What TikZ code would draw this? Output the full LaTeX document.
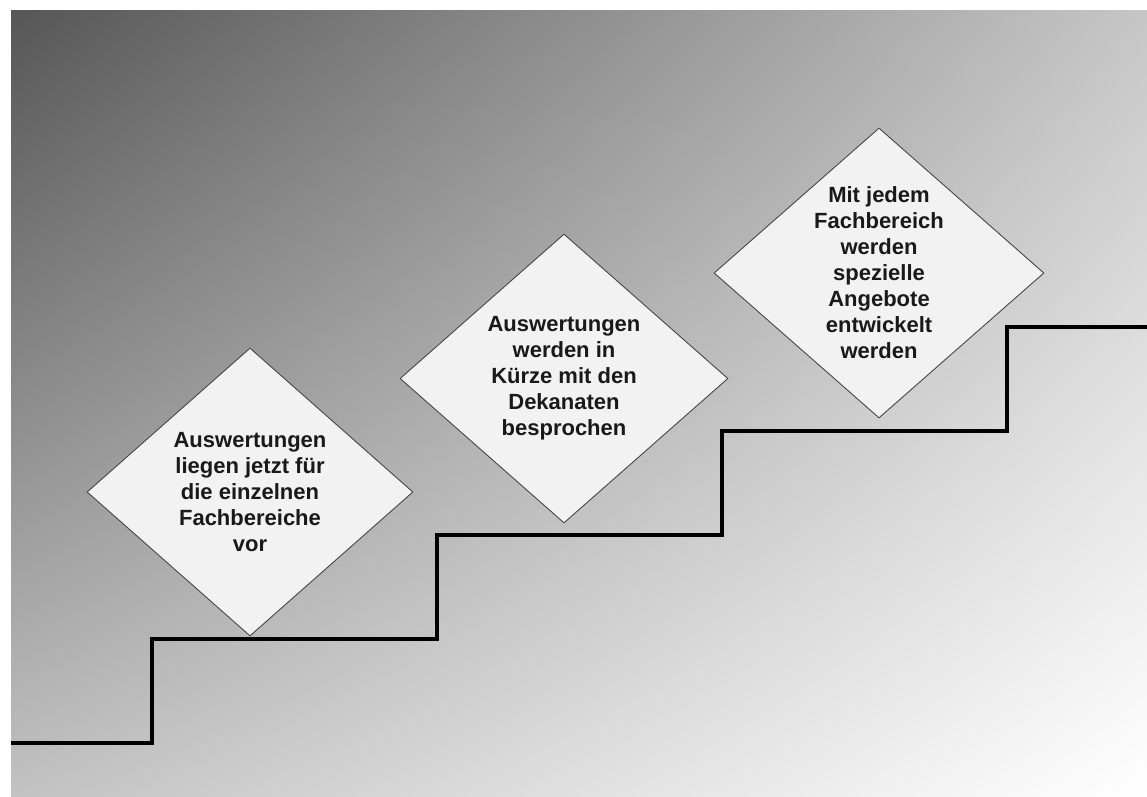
\documentclass[tikz,border=0pt]{standalone}
\usepackage{fontspec}
\setmainfont{Liberation Sans}
\usetikzlibrary{shapes.geometric,shadings}
\definecolor{bgTL}{RGB}{86,86,86}
\definecolor{bgTR}{RGB}{198,198,198}
\definecolor{bgBL}{RGB}{194,194,194}
\definecolor{bgBR}{RGB}{255,255,255}
\definecolor{diamfill}{RGB}{242,242,242}
\definecolor{diamline}{RGB}{70,70,70}
\definecolor{txt}{RGB}{25,25,25}
\tikzset{
  diam/.style={shape=diamond, draw=diamline, fill=diamfill, line width=0.9pt, inner sep=0pt},
  lbl/.style={align=center, inner sep=0pt, text=txt, font=\fontsize{22}{26}\selectfont\bfseries},
  stair/.style={line width=4pt, black, line join=miter}
}
\begin{document}
\begin{tikzpicture}[x=1pt,y=-1pt]
\useasboundingbox (0,0) rectangle (1147,796);
\fill[white] (0,0) rectangle (1147,796);
\shade[upper left=bgTL, upper right=bgTR, lower left=bgBL, lower right=bgBR] (11,10) rectangle (1147,796);
% stairs
\coordinate (s0) at (11,743);
\coordinate (s1) at (151.5,743);
\coordinate (s2) at (151.5,639);
\coordinate (s3) at (436.5,639);
\coordinate (s4) at (436.5,535);
\coordinate (s5) at (721.5,535);
\coordinate (s6) at (721.5,431);
\coordinate (s7) at (1006.5,431);
\coordinate (s8) at (1006.5,327);
\coordinate (s9) at (1147,327);
\draw[stair] (s0) -- (s1) -- (s2) -- (s3) -- (s4) -- (s5) -- (s6) -- (s7) -- (s8) -- (s9);
% diamonds
\node[diam, minimum width=326pt, minimum height=288pt] (d1) at (250,492) {};
\node[diam, minimum width=328pt, minimum height=289pt] (d2) at (564,378.5) {};
\node[diam, minimum width=330pt, minimum height=290pt] (d3) at (879,273) {};
\node[lbl] (t1) at (d1.center) {Auswertungen\\liegen jetzt für\\die einzelnen\\Fachbereiche\\vor};
\node[lbl] (t2) at (d2.center) {Auswertungen\\werden in\\Kürze mit den\\Dekanaten\\besprochen};
\node[lbl] (t3) at (d3.center) {Mit jedem\\Fachbereich\\werden\\spezielle\\Angebote\\entwickelt\\werden};
\end{tikzpicture}
\end{document}
